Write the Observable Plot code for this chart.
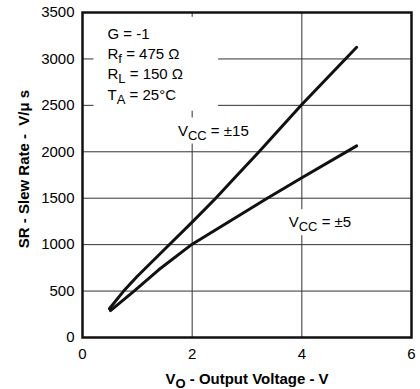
<!DOCTYPE html>
<html><head><meta charset="utf-8">
<script src="https://cdn.jsdelivr.net/npm/d3@7"></script>
<script src="https://cdn.jsdelivr.net/npm/@observablehq/plot@0.6"></script>
<style>
body{margin:0;background:#fff}
svg{display:block}
</style>
</head><body><div id="chart"></div>
<script>
// ---- data ----
const vo15 = [0.49, 0.75, 1.0, 1.6, 2.0, 2.43, 2.73, 3.22, 4.0, 5.0];
const sr15 = [310, 500, 660, 1010, 1242, 1500, 1691, 2000, 2510, 3125];
const vo5 = [0.51, 0.94, 1.39, 2.0, 3.37, 4.0, 5.0];
const sr5 = [290, 500, 729, 1005, 1500, 1720, 2064];
const xTicks = [0, 2, 4, 6];
const yTicks = [0, 500, 1000, 1500, 2000, 2500, 3000, 3500];
const xGrid = [2, 4];
const yGrid = [500, 1000, 1500, 2000, 2500, 3000];
const condText = ["G = -1", "R{f} = 475 Ω", "R{L} = 150 Ω", "T{A} = 25°C"];
const condX = [0.456, 0.456, 0.456, 0.456];
const condY = [3217, 3000, 2779, 2561];
const curveLabels = ["V{CC} = ±15", "V{CC} = ±5"];
const curveLabelX = [1.74, 3.76];
const curveLabelY = [2175, 1188];
const xTitle = "V{O} - Output Voltage - V";
const yTitle = "SR - Slew Rate -  V/μ s";

const FONT = "'Liberation Sans', Arial, Helvetica, sans-serif";
const line15 = vo15.map((v, i) => ({v, sr: sr15[i]}));
const line5 = vo5.map((v, i) => ({v, sr: sr5[i]}));
const conds = condText.map((t, i) => ({t, x: condX[i], y: condY[i]}));
const labels = curveLabels.map((t, i) => ({t, x: curveLabelX[i], y: curveLabelY[i]}));

const chart = Plot.plot({
  width: 420,
  height: 389,
  marginLeft: 82,
  marginRight: 9,
  marginTop: 12,
  marginBottom: 52,
  style: {fontFamily: FONT, fontSize: "15px", color: "#000", background: "#fff"},
  x: {domain: [0, 6], ticks: xTicks, tickFormat: d => String(d), tickSize: 0, tickPadding: 11, label: null},
  y: {domain: [0, 3500], ticks: yTicks, tickFormat: d => String(d), tickSize: 0, tickPadding: 8, label: null},
  marks: [
    Plot.ruleY(yGrid, {y: d => d, stroke: "#333", strokeWidth: 1}),
    Plot.ruleX(xGrid, {x: d => d, stroke: "#333", strokeWidth: 1}),
    Plot.line(line15, {x: "v", y: "sr", stroke: "#111", strokeWidth: 3, strokeLinejoin: "round", curve: "linear"}),
    Plot.line(line5, {x: "v", y: "sr", stroke: "#111", strokeWidth: 3, strokeLinejoin: "round", curve: "linear"}),
    Plot.text(conds, {x: "x", y: "y", text: "t", textAnchor: "start", lineAnchor: "bottom", fontSize: 15, fill: "#000"}),
    Plot.text(labels, {x: "x", y: "y", text: "t", textAnchor: "start", lineAnchor: "bottom", fontSize: 15, fill: "#000"}),
    Plot.frame({stroke: "#111", strokeWidth: 2.5}),
    Plot.text([xTitle], {frameAnchor: "bottom", dy: 46, textAnchor: "middle", lineAnchor: "bottom", fontSize: 15, fontWeight: "bold", fill: "#000"}),
    Plot.text([yTitle], {frameAnchor: "left", dx: -54, dy: -6, rotate: -90, textAnchor: "middle", lineAnchor: "bottom", fontSize: 15, fontWeight: "bold", fill: "#000"})
  ]
});

document.getElementById("chart").appendChild(chart);

// subscripts: "{...}" becomes a lowered, smaller tspan
const NS = "http://www.w3.org/2000/svg";
chart.querySelectorAll("text").forEach(t => {
  const s = t.textContent;
  if (!s.includes("{")) return;
  while (t.firstChild) t.removeChild(t.firstChild);
  let shifted = false;
  for (const p of s.split(/(\{[^}]*\})/)) {
    if (!p) continue;
    const ts = document.createElementNS(NS, "tspan");
    if (p.startsWith("{")) {
      ts.textContent = p.slice(1, -1);
      ts.setAttribute("dy", "4");
      ts.setAttribute("font-size", "13");
      shifted = true;
    } else {
      ts.textContent = p;
      if (shifted) { ts.setAttribute("dy", "-4"); shifted = false; }
    }
    t.appendChild(ts);
  }
});

// white boxes behind annotation blocks (interrupt the grid like the original)
function boxBehind(textEls, pad) {
  if (!textEls.length) return;
  const root = chart.getBoundingClientRect();
  let x0 = Infinity, y0 = Infinity, x1 = -Infinity, y1 = -Infinity;
  textEls.forEach(t => {
    const b = t.getBoundingClientRect();
    x0 = Math.min(x0, b.left - root.left); y0 = Math.min(y0, b.top - root.top);
    x1 = Math.max(x1, b.right - root.left); y1 = Math.max(y1, b.bottom - root.top);
  });
  const r = document.createElementNS(NS, "rect");
  r.setAttribute("x", x0 - pad.l); r.setAttribute("y", y0 - pad.t);
  r.setAttribute("width", x1 - x0 + pad.l + pad.r); r.setAttribute("height", y1 - y0 + pad.t + pad.b);
  r.setAttribute("fill", "#fff");
  let g = textEls[0];
  while (g.parentNode !== chart) g = g.parentNode;
  chart.insertBefore(r, g);
}
const allTexts = Array.from(chart.querySelectorAll("text"));
const plain = s => s.replace(/[{}]/g, "");
const condEls = allTexts.filter(t => condText.map(plain).includes(t.textContent));
boxBehind(condEls, {l: 14, r: 35, t: 8, b: 4});
curveLabels.forEach(lbl => {
  const el = allTexts.filter(t => t.textContent === plain(lbl));
  boxBehind(el, {l: 4, r: 4, t: 4, b: 1});
});
</script>
</body></html>
